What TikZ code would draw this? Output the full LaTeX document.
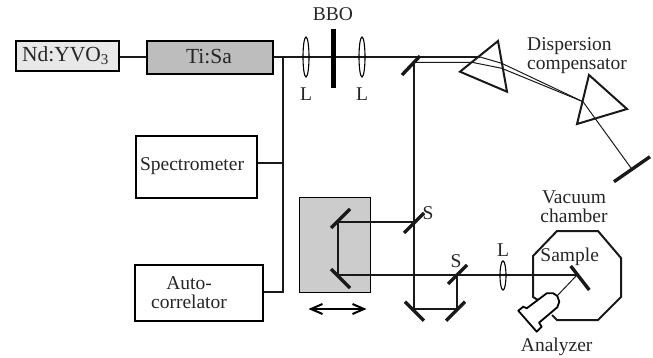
\documentclass[tikz,border=0pt]{standalone}
\usepackage{fontspec}
\usetikzlibrary{shapes.geometric}
\setmainfont{Liberation Serif}
\begin{document}
\begin{tikzpicture}[x=1pt,y=-1pt,
  txt/.style={inner sep=0pt,font=\fontsize{19.5}{20}\selectfont,text=black!85},
  bigtxt/.style={inner sep=0pt,font=\fontsize{21.5}{22}\selectfont,text=black!85},
  box/.style={draw=black,line width=2pt,inner sep=0pt,anchor=north west},
  beam/.style={line width=1.3pt,draw=black!90},
  thinbeam/.style={line width=1pt,draw=black!90},
  mirror/.style={line width=3.4pt,draw=black!90},
  prism/.style={line width=2pt,draw=black!90,line join=miter},
  lens/.style={draw=black,line width=1.1pt,ellipse,inner sep=0pt}]
\useasboundingbox (0,0) rectangle (653,358);
% gray translation stage
\node[draw=black,line width=1.2pt,fill=black!20,minimum width=71pt,minimum height=95pt,anchor=north west,inner sep=0pt] (stage) at (299,197) {};
% boxes
\node[box,fill=black!9,minimum width=103pt,minimum height=30pt] (nd) at (15,40.5) {};
\node[bigtxt] at (65.5,56) {Nd:YVO\textsubscript{3}};
\node[box,fill=black!26,minimum width=126pt,minimum height=33pt] (tisa) at (146,40.5) {};
\node[bigtxt] at (209,57) {Ti:Sa};
\node[box,fill=white,minimum width=121pt,minimum height=62pt] (spec) at (135,135) {};
\node[txt] at (192,166.5) {Spectrometer};
\node[box,fill=white,minimum width=128pt,minimum height=56pt] (auto) at (134,264) {};
\node[txt,align=center] at (189,292.5) {Auto-\\[-1pt]correlator};
% key points
\coordinate (split) at (283,57);
\coordinate (m1) at (414,57);
\coordinate (p1a) at (480,57);
\coordinate (p1b) at (501.7,63.3);
\coordinate (p2) at (583,101.7);
\coordinate (q1a) at (472,62.3);
\coordinate (q1b) at (501.7,68.3);
\coordinate (m1b) at (414,62.3);
\coordinate (endm) at (631,168);
\coordinate (sp) at (283,163);
\coordinate (ap) at (283,292);
\coordinate (s1) at (414,222);
\coordinate (t1) at (338,222);
\coordinate (t2) at (338,275);
\coordinate (s2) at (457,275);
\coordinate (b1) at (414,309);
\coordinate (b2) at (457,309);
\coordinate (samp) at (577,275);
\coordinate (ana) at (557,296);
% beams
\draw[beam] (nd.east |- split) -- (tisa.west |- split);
\draw[beam] (tisa.east |- split) -- (split) -- (m1);
\draw[beam] (m1) -- (p1a);
\draw[thinbeam] (p1a) -- (p1b) -- (p2);
\draw[thinbeam] (m1b) -- (q1a) -- (q1b) -- (p2) -- (endm);
\draw[beam] (split) -- (ap) -- (auto.east |- ap);
\draw[beam] (sp) -- (spec.east |- sp);
\draw[beam] (m1b) -- (b1) -- (b2) -- (s2);
\draw[beam] (s1) -- (t1) -- (t2) -- (s2) -- (samp);
\draw[thinbeam] (samp) -- (ana);
% lenses
\node[lens,minimum width=6pt,minimum height=40pt] (l1) at (306,57) {};
\node[lens,minimum width=6pt,minimum height=40pt] (l2) at (362,57) {};
\node[lens,minimum width=6pt,minimum height=29pt] (l3) at (503,275.5) {};
\node[txt] at (306,94.5) {L};
\node[txt] at (362,94.5) {L};
\node[txt] at (503,250) {L};
% BBO
\draw[line width=5pt,draw=black] (333,29) -- (333,88);
\node[txt] at (333,14) {BBO};
% mirrors
\draw[mirror] (402,75) -- (420,56);
\draw[mirror] (331,228) -- (350,209);
\draw[mirror] (331,269) -- (350,288);
\draw[mirror] (404,233) -- (424,213);
\draw[mirror] (448,284) -- (467,265);
\draw[mirror] (405,301.7) -- (424,320.7);
\draw[mirror] (446,320.7) -- (465,301.7);
\draw[mirror] (614,181.7) -- (650,156.7);
\draw[mirror] (570.7,266) -- (589.3,290);
% prisms
\draw[prism] (498,41) -- (460,71.7) -- (507,91.7) -- cycle;
\draw[prism] (589,75) -- (577,124) -- (627,109) -- cycle;
% double arrow
\draw[line width=2pt,draw=black] (312,309) -- (363,309);
\draw[line width=2pt,draw=black,line join=miter] (322.5,304) -- (311,309) -- (322.5,314);
\draw[line width=2pt,draw=black,line join=miter] (352.5,304) -- (364,309) -- (352.5,314);
\node[txt] at (428,213) {S};
\node[txt] at (456,261) {S};
% vacuum chamber
\draw[prism] (538,300) -- (533,297) -- (533,256) -- (557,231) -- (598,231) -- (621,258) -- (621,297) -- (598,320) -- (557,320) -- (552,315);
% analyzer
\draw[line width=1.8pt,draw=black,fill=white,line join=round] (557.3,296) -- (553.3,293.3) -- (546.7,293.3) -- (526.7,308.3) -- (523.3,306.7) -- (518.3,310.7) -- (536.7,331.7) -- (541.7,326.7) -- (539,322.7) -- (557.3,307.3) -- (559.3,301.7) -- cycle;
\node[txt] at (569.7,257) {Sample};
\node[txt] at (556.7,347) {Analyzer};
\node[txt,align=center] at (574,207) {Vacuum\\[-1pt]chamber};
\node[txt,align=left] at (577,56) {Dispersion\\[-1pt]compensator};
\end{tikzpicture}
\end{document}
